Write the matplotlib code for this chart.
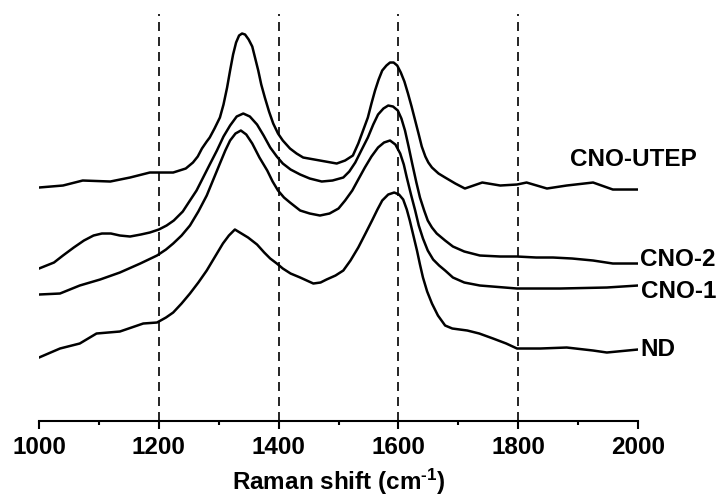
import numpy as np
import matplotlib
matplotlib.use("Agg")
import matplotlib.pyplot as plt

plt.rcParams['font.family'] = ['Liberation Sans', 'DejaVu Sans']
plt.rcParams['mathtext.default'] = 'regular'

# Raman spectra (intensity in arbitrary, offset units)
x_utep = [1000, 1040, 1073, 1119, 1152, 1185, 1224, 1245, 1257, 1265, 1272, 1280,
          1285, 1293, 1302, 1308, 1314, 1319, 1324, 1329, 1334, 1339, 1344, 1350,
          1356, 1361, 1366, 1371, 1377, 1384, 1391, 1399, 1407, 1419, 1430, 1441,
          1469, 1497, 1511, 1524, 1533, 1541, 1549, 1555, 1561, 1567, 1573, 1580,
          1586, 1592, 1598, 1604, 1610, 1616, 1622, 1628, 1634, 1639, 1645, 1650,
          1656, 1667, 1678, 1695, 1711, 1740, 1770, 1798, 1814, 1848, 1881, 1925,
          1958, 2000]
y_utep = [2.33, 2.35, 2.40, 2.39, 2.43, 2.48, 2.48, 2.52, 2.58, 2.64, 2.72, 2.79,
          2.83, 2.92, 3.03, 3.16, 3.33, 3.50, 3.66, 3.78, 3.85, 3.87, 3.86, 3.81,
          3.74, 3.62, 3.50, 3.36, 3.23, 3.09, 2.97, 2.87, 2.80, 2.72, 2.67, 2.63,
          2.60, 2.57, 2.60, 2.65, 2.77, 2.90, 3.03, 3.17, 3.30, 3.41, 3.50, 3.55,
          3.58, 3.58, 3.55, 3.48, 3.39, 3.27, 3.14, 3.00, 2.86, 2.74, 2.64, 2.58,
          2.53, 2.47, 2.43, 2.37, 2.32, 2.38, 2.35, 2.36, 2.38, 2.32, 2.35, 2.38,
          2.31, 2.31]

x_cno2 = [1000, 1025, 1040, 1058, 1075, 1091, 1105, 1120, 1135, 1152, 1170, 1185,
          1200, 1213, 1225, 1240, 1252, 1263, 1274, 1285, 1297, 1308, 1319, 1330,
          1341, 1352, 1364, 1375, 1386, 1397, 1407, 1420, 1436, 1452, 1472, 1490,
          1508, 1518, 1528, 1538, 1549, 1558, 1566, 1575, 1583, 1591, 1599, 1605,
          1611, 1617, 1623, 1630, 1636, 1643, 1649, 1656, 1664, 1678, 1691, 1710,
          1736, 1770, 1798, 1830, 1858, 1890, 1925, 1958, 2000]
y_cno2 = [1.52, 1.58, 1.65, 1.73, 1.80, 1.85, 1.87, 1.87, 1.85, 1.84, 1.86, 1.88,
          1.91, 1.95, 2.00, 2.09, 2.20, 2.30, 2.43, 2.56, 2.70, 2.84, 2.95, 3.04,
          3.07, 3.04, 2.96, 2.85, 2.73, 2.64, 2.57, 2.51, 2.46, 2.42, 2.39, 2.40,
          2.43, 2.49, 2.58, 2.70, 2.83, 2.96, 3.06, 3.12, 3.15, 3.14, 3.10, 3.02,
          2.90, 2.74, 2.57, 2.38, 2.23, 2.10, 2.00, 1.93, 1.87, 1.80, 1.74, 1.69,
          1.65, 1.64, 1.64, 1.63, 1.63, 1.62, 1.60, 1.57, 1.57]

x_cno1 = [1000, 1035, 1068, 1102, 1135, 1169, 1197, 1212, 1224, 1238, 1252, 1266,
          1280, 1291, 1302, 1311, 1319, 1328, 1337, 1346, 1356, 1368, 1381, 1390,
          1399, 1409, 1419, 1436, 1452, 1469, 1485, 1500, 1511, 1523, 1533, 1544,
          1555, 1566, 1576, 1586, 1595, 1603, 1609, 1614, 1621, 1628, 1634, 1641,
          1649, 1658, 1668, 1678, 1691, 1710, 1736, 1798, 1870, 1948, 2000]
y_cno1 = [1.26, 1.27, 1.35, 1.41, 1.48, 1.57, 1.65, 1.71, 1.77, 1.85, 1.95, 2.09,
          2.25, 2.41, 2.57, 2.70, 2.80, 2.87, 2.90, 2.86, 2.77, 2.63, 2.50, 2.39,
          2.30, 2.23, 2.18, 2.10, 2.07, 2.05, 2.07, 2.12, 2.20, 2.30, 2.41, 2.53,
          2.64, 2.73, 2.78, 2.80, 2.76, 2.67, 2.56, 2.43, 2.26, 2.10, 1.95, 1.82,
          1.70, 1.61, 1.55, 1.50, 1.43, 1.38, 1.35, 1.32, 1.32, 1.33, 1.35]

x_nd = [1000, 1035, 1068, 1096, 1135, 1174, 1197, 1212, 1224, 1238, 1252, 1266,
        1280, 1294, 1307, 1317, 1327, 1338, 1349, 1364, 1376, 1386, 1397, 1407,
        1420, 1436, 1458, 1470, 1480, 1495, 1508, 1520, 1533, 1545, 1556, 1565,
        1573, 1583, 1593, 1601, 1608, 1614, 1619, 1625, 1631, 1636, 1641, 1648,
        1656, 1666, 1678, 1690, 1715, 1735, 1758, 1780, 1798, 1837, 1881, 1925,
        1948, 2000]
y_nd = [0.63, 0.72, 0.77, 0.87, 0.89, 0.97, 0.98, 1.03, 1.08, 1.17, 1.27, 1.38,
        1.50, 1.64, 1.77, 1.85, 1.91, 1.87, 1.83, 1.76, 1.68, 1.62, 1.57, 1.52,
        1.47, 1.43, 1.37, 1.38, 1.41, 1.45, 1.50, 1.60, 1.73, 1.87, 2.00, 2.11,
        2.20, 2.26, 2.28, 2.26, 2.21, 2.11, 2.00, 1.85, 1.70, 1.56, 1.43, 1.29,
        1.17, 1.05, 0.95, 0.92, 0.90, 0.87, 0.82, 0.77, 0.72, 0.72, 0.73, 0.70,
        0.68, 0.71]

labels = ['CNO-UTEP', 'CNO-2', 'CNO-1', 'ND']
label_pos = [(1887, 2.55), (2004, 1.55), (2005, 1.23), (2004, 0.65)]
guides = [1200, 1400, 1600, 1800]

fig = plt.figure(figsize=(7.2, 4.97), dpi=100)
ax = fig.add_axes([0.0542, 0.1539, 0.8319, 0.8179])

for xs, ys in [(x_utep, y_utep), (x_cno2, y_cno2), (x_cno1, y_cno1), (x_nd, y_nd)]:
    ax.plot(xs, ys, color='black', lw=1.8, solid_joinstyle='round')

for g in guides:
    ax.axvline(g, color='black', lw=1.2, linestyle=(0, (5.4, 3.6)), zorder=1)

for name, (tx, ty) in zip(labels, label_pos):
    ax.text(tx, ty, name, fontsize=17.5, fontweight='bold', ha='left', va='baseline',
            clip_on=False)

ax.set_xlim(1000, 2000)
ax.set_ylim(0, 4.065)
ax.set_xticks(np.arange(1000, 2001, 200))
ax.set_xticks(np.arange(1100, 2000, 200), minor=True)
ax.set_yticks([])
for side in ['top', 'right', 'left']:
    ax.spines[side].set_visible(False)
ax.spines['bottom'].set_linewidth(1.5)
ax.tick_params(axis='x', which='major', direction='out', length=6, width=1.5,
               labelsize=17.5, pad=5)
ax.tick_params(axis='x', which='minor', direction='out', length=3, width=1.5)
for lab in ax.get_xticklabels():
    lab.set_fontweight('bold')
# hyphen (not minus) in the superscript, like the original
ax.set_xlabel('Raman shift (cm$^{\u2010 1}$)', fontsize=17.5, fontweight='bold', labelpad=6)

fig.savefig('out.png', dpi=100)
